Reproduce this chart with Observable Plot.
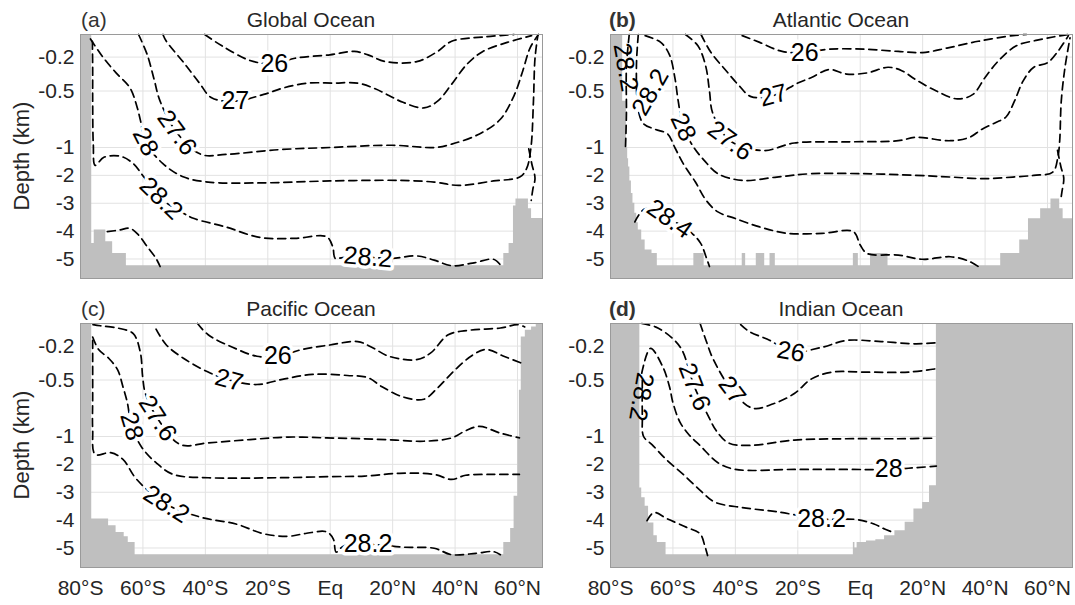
<!DOCTYPE html>
<html><head><meta charset="utf-8">
<script src="https://cdn.jsdelivr.net/npm/d3@7"></script>
<script src="https://cdn.jsdelivr.net/npm/@observablehq/plot@0.6"></script>
<style>
body{margin:0;background:#fff;font-family:"Liberation Sans",Arial,sans-serif;}
#wrap{position:relative;width:1075px;height:605px;overflow:hidden;background:#fff}
.pn{position:absolute}
.tag{position:absolute;font-size:21px;line-height:21px;color:#333;white-space:nowrap}
.ttl{position:absolute;font-size:21px;line-height:21px;color:#262626;text-align:center;width:300px}
.ylab{position:absolute;width:200px;height:24px;line-height:24px;font-size:22px;color:#262626;text-align:center;transform:rotate(-90deg)}
</style></head><body><div id="wrap"></div>
<script>
// ---- axes ----
const LAT_TICKS = [-80,-60,-40,-20,0,20,40,60];
const LAT_LABELS = ["80°S","60°S","40°S","20°S","Eq","20°N","40°N","60°N"];
const DEPTH_TICKS = [-0.2,-0.5,-1,-2,-3,-4,-5];
const LAT_RANGE = [-80, 68];
const DEPTH_BREAKS = [0, -1, -5.7];

// ---- (a) Global Ocean: [lat, depth km] ----
const glo26 = [[-40.2,0],[-34.7,-0.1],[-25.7,-0.23],[-17.9,-0.26],[-11.3,-0.21],[-0.1,-0.18],[7.7,-0.15],[12.1,-0.18],[17.7,-0.24],[27.7,-0.24],[34.4,-0.15],[38.9,-0.06],[50,-0.02],[58.9,0]];
const glo27 = [[-53.6,0],[-52.5,-0.06],[-46.9,-0.25],[-41.9,-0.43],[-38,-0.56],[-30.4,-0.59],[-21.3,-0.53],[-14.6,-0.47],[-6.8,-0.43],[1,-0.43],[8.8,-0.43],[14.4,-0.48],[18.8,-0.54],[23.3,-0.6],[30,-0.65],[34.4,-0.59],[38.9,-0.44],[43.9,-0.26],[48.9,-0.15],[56.7,-0.07],[64.5,-0.01]];
const glo276 = [[-61.4,0],[-58.6,-0.18],[-56.4,-0.4],[-54.5,-0.59],[-49.1,-0.87],[-41.3,-1.25],[-33.5,-1.25],[-16.8,-1.08],[-0.1,-1.0],[19.9,-0.98],[33.3,-1.0],[38.9,-0.97],[47.8,-0.88],[54.5,-0.75],[58.9,-0.54],[61.7,-0.32],[64,-0.12],[66.7,0]];
const glo28 = [[-76.8,-0.04],[-73.1,-0.19],[-68.6,-0.34],[-64.2,-0.47],[-62,-0.63],[-60.8,-0.76],[-59.2,-0.95],[-53.6,-1.58],[-46.9,-2.06],[-39.1,-2.24],[-22.4,-2.27],[-0.1,-2.2],[22.2,-2.18],[33.3,-2.24],[41.1,-2.36],[52.3,-2.2],[60.7,-2.06],[62.9,-1.76],[64.3,-1.0],[65.1,-0.59],[65.6,-0.21],[66.5,-0.01]];
const glo282 = [[-76.2,-0.06],[-76.1,-0.3],[-76.1,-0.59],[-75.9,-0.97],[-75.3,-1.64],[-72.5,-1.35],[-67,-1.32],[-63.1,-1.58],[-59.7,-2.06],[-54.2,-2.83],[-46.9,-3.37],[-43.6,-3.55],[-33.5,-3.85],[-22.4,-4.23],[-11.3,-4.26],[-1.2,-4.2],[0.8,-4.56],[1.6,-4.98],[4,-4.95],[12.1,-4.94],[19.9,-4.98],[27.7,-4.89],[33.3,-5.04],[38.9,-5.24],[45.6,-5.15],[52.3,-5.01],[54.5,-5.21]];
const glo284 = [[-71.4,-4.02],[-67.5,-3.96],[-64.2,-3.9],[-61.4,-4.14],[-58.6,-4.56],[-55.8,-4.98],[-54.5,-5.27]];
const glo28e = [[63.6,-1.05],[64.6,-1.6],[65.6,-2.1],[64.9,-2.5],[64.4,-2.9]];
const gloFloor = [[-80,0],[-76.4,-4.44],[-75.6,-3.96],[-71.9,-4.38],[-69.7,-4.8],[-65.3,-5.24],[55.6,-4.8],[57.3,-4.44],[58.7,-3.1],[59.5,-2.85],[63.5,-3.2],[64.5,-3.55],[68,-3.55]];
const gloLabText = ["26","27","27.6","28","28.2","28.2"];
const gloLabLat = [-17.9,-30.4,-49.1,-59.2,-54.2,12.1];
const gloLabDepth = [-0.26,-0.59,-0.87,-0.95,-2.83,-4.94];
const gloLabRot = [0,0,54,63,44,5];
const gloBare = [];

// ---- (b) Atlantic Ocean ----
const atl26 = [[-37.8,-0.01],[-32.2,-0.07],[-25,-0.15],[-17.8,-0.16],[-10,-0.13],[1.1,-0.13],[12.2,-0.15],[20,-0.16],[27.8,-0.12],[37.8,-0.06],[48.9,-0.01],[53.3,0]];
const atl27 = [[-51,0],[-47.8,-0.16],[-43.3,-0.31],[-38.9,-0.45],[-35,-0.55],[-27.8,-0.54],[-20,-0.43],[-15.6,-0.38],[-10,-0.31],[-4.4,-0.35],[2.2,-0.34],[8.9,-0.29],[13.3,-0.32],[17.8,-0.4],[24.4,-0.5],[31.1,-0.57],[36.1,-0.53],[40,-0.38],[44.4,-0.23],[50,-0.1],[56.7,-0.05],[62.2,-0.02],[66.7,0]];
const atl276 = [[-56,0],[-52,-0.1],[-49.5,-0.28],[-48.3,-0.5],[-47.2,-0.7],[-41.7,-0.94],[-31.1,-1.11],[-21.1,-0.96],[-4.4,-0.95],[12.2,-0.94],[17.8,-0.91],[28.9,-0.94],[35,-0.91],[38.9,-0.84],[43.3,-0.78],[46.7,-0.73],[49.4,-0.59],[52.2,-0.41],[55.6,-0.29],[60,-0.25],[63.3,-0.15],[66.7,-0.01]];
const atl28 = [[-68.9,-0.01],[-63.9,-0.07],[-61.1,-0.18],[-59.4,-0.38],[-58.3,-0.59],[-56.7,-0.82],[-53.3,-1.0],[-50,-1.46],[-45.6,-1.94],[-37.8,-2.18],[-26.7,-2.06],[-15.6,-1.94],[1.1,-1.94],[17.8,-2.0],[28.9,-2.06],[40,-2.12],[48.9,-2.06],[55.6,-2.0],[61.7,-1.88],[63.3,-1.35],[63.9,-0.94],[64.4,-0.59],[65.6,-0.29],[67.2,-0.03]];
const atl282 = [[-71.1,0],[-71.7,-0.29],[-71.1,-0.67],[-69.4,-0.79],[-65.6,-0.84],[-61.7,-0.88],[-59.4,-1.0],[-56.7,-1.58],[-52.8,-2.24],[-49.4,-2.89],[-45.6,-3.31],[-40,-3.55],[-32.2,-3.85],[-23.3,-4.08],[-12.2,-4.08],[-2.2,-4.02],[0,-4.5],[2.2,-4.8],[12.2,-4.86],[20,-5.01],[28.9,-4.92],[34.4,-5.06],[37.8,-5.27]];
const atl282w = [[-74,0],[-74.9,-0.29],[-74.9,-0.7],[-75.2,-1.0]];
const atl284 = [[-72.2,-3.67],[-68.9,-3.2],[-61.1,-3.56],[-53.9,-4.08],[-51.1,-4.44],[-49.4,-4.92],[-48.3,-5.27]];
const atl28e = [[63.2,-1.1],[64.3,-1.7],[65.2,-2.1],[64.6,-2.6],[64.2,-2.9]];
const atlFloor = [[-80,0],[-76.1,-0.59],[-74.9,-1.0],[-74.5,-1.4],[-74.2,-1.7],[-73.8,-2.2],[-73.3,-2.65],[-72.8,-3.0],[-72.2,-3.36],[-71.6,-3.7],[-71.1,-3.96],[-70,-4.32],[-68.9,-4.68],[-66.7,-4.8],[-65,-5.24],[-53.3,-4.8],[-50,-5.24],[-37.8,-4.8],[-36.7,-5.24],[-33.3,-4.8],[-30.6,-5.24],[-28.9,-4.8],[-27.2,-5.24],[-2.2,-4.8],[-0.6,-5.24],[3.3,-4.8],[8.9,-5.24],[45,-4.8],[51.1,-4.32],[53.9,-3.56],[57.8,-3.2],[61.1,-2.85],[63.9,-3.2],[65,-3.56],[68,-3.56]];
const atlLabText = ["26","27","27.6","28","28.2","28.2","28.4"];
const atlLabLat = [-17.8,-27.8,-41.7,-56.7,-75.2,-67.2,-61.1];
const atlLabDepth = [-0.16,-0.54,-0.94,-0.82,-0.29,-0.51,-3.56];
const atlLabRot = [0,-15,37,65,80,-60,35];
const atlBare = [4];

// ---- (c) Pacific Ocean ----
const pac26 = [[-42.5,0],[-39.1,-0.1],[-31.3,-0.21],[-23.5,-0.29],[-16.8,-0.29],[-9,-0.23],[-0.1,-0.19],[8.8,-0.16],[13.3,-0.21],[18.8,-0.29],[27.7,-0.32],[32.2,-0.26],[37.8,-0.1],[44.5,-0.06],[54.5,-0.04],[60.1,-0.01],[62.3,-0.03]];
const pac27 = [[-55.8,-0.05],[-52.5,-0.19],[-46.9,-0.31],[-39.1,-0.43],[-32.4,-0.5],[-23.5,-0.54],[-14.6,-0.49],[-5.7,-0.45],[5.5,-0.46],[12.1,-0.48],[16.6,-0.56],[23.3,-0.65],[30,-0.67],[34.4,-0.57],[40,-0.41],[45.6,-0.28],[50,-0.23],[55.6,-0.29],[61.2,-0.35]];
const pac276 = [[-76,-0.01],[-73.6,-0.02],[-68.1,-0.04],[-63.1,-0.09],[-60.8,-0.26],[-60.1,-0.47],[-59.2,-0.62],[-55.3,-0.84],[-48,-1.29],[-39.1,-1.23],[-25.7,-1.11],[-13.5,-1.02],[-1.2,-1.05],[9.9,-1.08],[21.1,-1.13],[30,-1.17],[38.9,-1.05],[43.3,-0.95],[47.8,-0.91],[54.5,-0.97],[60.6,-1.05]];
const pac28 = [[-76.1,-0.12],[-74.2,-0.23],[-70.9,-0.31],[-68.1,-0.41],[-66.4,-0.56],[-65,-0.7],[-63.6,-0.91],[-60.3,-1.4],[-55.8,-1.94],[-50.3,-2.36],[-39.1,-2.48],[-16.8,-2.48],[-0.1,-2.44],[11,-2.42],[22.2,-2.32],[33.3,-2.36],[38.9,-2.54],[43.4,-2.39],[52.3,-2.36],[60.6,-2.36]];
const pac282 = [[-76.1,-0.15],[-76.1,-0.65],[-76.1,-0.94],[-75.3,-1.64],[-70.3,-1.58],[-66.4,-1.82],[-62,-2.54],[-52.5,-3.43],[-41.3,-3.9],[-30.2,-4.14],[-21.3,-4.49],[-13.5,-4.58],[-7.9,-4.48],[-1.2,-4.42],[1,-4.68],[1.9,-5.15],[4.3,-4.93],[12.1,-4.87],[23.3,-4.97],[33.3,-5.01],[38.9,-5.24],[46.7,-5.19],[52.3,-5.13],[54.5,-5.24]];
const pacFloor = [[-80,0],[-76.4,-3.96],[-71,-4.2],[-68.6,-4.44],[-66,-4.6],[-64.7,-4.8],[-62.5,-5.24],[55.6,-4.8],[57.8,-4.3],[58.9,-3.14],[60.1,-1.1],[60.6,-0.59],[61.2,-0.12],[62.5,-0.06],[64.5,-0.03],[66,0],[68,0]];
const pacLabText = ["26","27","27.6","28","28.2","28.2"];
const pacLabLat = [-16.8,-32.4,-55.3,-63.6,-52.5,12.1];
const pacLabDepth = [-0.29,-0.5,-0.84,-0.91,-3.43,-4.87];
const pacLabRot = [0,15,57,73,32,0];
const pacBare = [];

// ---- (d) Indian Ocean ----
const ind26 = [[-38.3,-0.01],[-35.6,-0.07],[-28.9,-0.15],[-22.2,-0.25],[-12.2,-0.21],[-4.4,-0.15],[6.7,-0.16],[17.8,-0.18],[24.4,-0.17]];
const ind27 = [[-51.3,0],[-49.4,-0.15],[-47.2,-0.31],[-41.1,-0.59],[-34.4,-0.75],[-27.8,-0.71],[-21.1,-0.62],[-15.6,-0.49],[-8.9,-0.43],[1.1,-0.43],[15.6,-0.43],[24.4,-0.4]];
const ind276 = [[-70,0],[-65.6,-0.03],[-60.6,-0.12],[-57.2,-0.23],[-53.1,-0.56],[-48.3,-0.84],[-46.1,-0.95],[-42.2,-1.23],[-35.6,-1.32],[-21.1,-1.13],[-4.4,-1.08],[12.2,-1.08],[24.4,-1.06]];
const ind28 = [[-70,-0.44],[-67.2,-0.22],[-63.3,-0.38],[-61.1,-0.56],[-60,-0.7],[-57.8,-0.87],[-55,-0.98],[-51.1,-1.35],[-45.6,-1.94],[-40,-2.18],[-21.1,-2.18],[-4.4,-2.18],[9.1,-2.18],[24.4,-2.06]];
const ind282 = [[-69.8,-0.5],[-69.8,-0.82],[-69.4,-1.0],[-66.7,-1.29],[-62.2,-1.82],[-56.7,-2.36],[-51.1,-2.95],[-46.7,-3.35],[-37.8,-3.55],[-26.7,-3.7],[-12.4,-3.96],[-1.1,-3.98],[4.4,-4.14],[7.8,-4.32],[10.6,-4.44]];
const ind284 = [[-68.3,-4.02],[-66.1,-3.73],[-61.7,-3.96],[-55.6,-4.26],[-51.3,-4.49],[-49.8,-4.92],[-48.9,-5.27]];
const indFloor = [[-80,0],[-70.6,-2.85],[-70,-3.2],[-68.9,-3.5],[-67.8,-4.1],[-66.1,-4.56],[-65,-4.8],[-62.2,-5.24],[-2.2,-4.8],[-1.7,-5.0],[-1,-4.8],[2,-4.75],[5,-4.7],[7.8,-4.56],[11.1,-4.38],[14.4,-4.08],[17.2,-3.6],[20,-3.37],[22.2,-2.77],[24.4,0],[68,0]];
const indLabText = ["26","27","27.6","28","28.2","28.2"];
const indLabLat = [-22.2,-41.1,-53.1,9.1,-12.4,-70.2];
const indLabDepth = [-0.25,-0.59,-0.56,-2.18,-3.96,-0.65];
const indLabRot = [10,53,69,0,0,100];
const indBare = [5];

function labels(t, la, de, ro, bare) { return t.map((s, i) => ({text: s, lat: la[i], depth: de[i], rot: ro[i], halo: !bare.includes(i)})); }

const FONT = '"Liberation Sans", Arial, sans-serif';
function panel(lines, floor, labs, showX) {
  const mt = 34, mb = showX ? 37 : 2, ph = 244;
  return Plot.plot({
    width: 545, height: mt + ph + mb,
    marginLeft: 80, marginRight: 3, marginTop: mt, marginBottom: mb,
    style: {fontFamily: FONT, fontSize: "21px", color: "#262626", background: "transparent"},
    x: {type: "linear", domain: LAT_RANGE, ticks: LAT_TICKS, tickFormat: d => LAT_LABELS[LAT_TICKS.indexOf(d)], tickSize: 0, tickPadding: 13, label: null, axis: showX ? "bottom" : null},
    y: {type: "linear", domain: DEPTH_BREAKS, range: [mt, mt + 113, mt + ph], ticks: DEPTH_TICKS, tickFormat: d => String(d), tickSize: 0, tickPadding: 6, label: null},
    marks: [
      Plot.ruleX(LAT_TICKS, {stroke: "#e2e2e2", strokeWidth: 1}),
      Plot.ruleY(DEPTH_TICKS, {stroke: "#e2e2e2", strokeWidth: 1}),
      Plot.areaY(floor, {x: d => d[0], y1: DEPTH_BREAKS[2], y2: d => d[1], curve: "step-after", fill: "#bfbfbf"}),
      ...lines.map(l => Plot.line(l, {x: d => d[0], y: d => d[1], stroke: "#000", strokeWidth: 1.7, strokeDasharray: "8,5", curve: "catmull-rom"})),
      Plot.text(labs.filter(d => d.halo), {x: "lat", y: "depth", text: "text", rotate: "rot", fontSize: 25, fill: "#fff", stroke: "#fff", strokeWidth: 7, fontFamily: FONT}),
      Plot.text(labs, {x: "lat", y: "depth", text: "text", rotate: "rot", fontSize: 25, fill: "#000", fontFamily: FONT}),
      Plot.frame({stroke: "#9a9a9a", strokeWidth: 1})
    ]
  });
}

const wrap = document.getElementById("wrap");
function place(el, left, top) { el.classList.add("pn"); el.style.left = left + "px"; el.style.top = top + "px"; wrap.appendChild(el); }
function div(cls, txt, left, top, extra) { const d = document.createElement("div"); d.className = cls; d.textContent = txt; d.style.left = left + "px"; d.style.top = top + "px"; if (extra) Object.assign(d.style, extra); wrap.appendChild(d); }

place(panel([glo26, glo27, glo276, glo28, glo282, glo284, glo28e], gloFloor, labels(gloLabText, gloLabLat, gloLabDepth, gloLabRot, gloBare), false), 0, 0);
place(panel([atl26, atl27, atl276, atl28, atl282, atl282w, atl284, atl28e], atlFloor, labels(atlLabText, atlLabLat, atlLabDepth, atlLabRot, atlBare), false), 530, 0);
place(panel([pac26, pac27, pac276, pac28, pac282], pacFloor, labels(pacLabText, pacLabLat, pacLabDepth, pacLabRot, pacBare), true), 0, 289);
place(panel([ind26, ind27, ind276, ind28, ind282, ind284], indFloor, labels(indLabText, indLabLat, indLabDepth, indLabRot, indBare), true), 530, 289);

div("tag", "(a)", 81, 9);
div("tag", "(b)", 609, 9, {fontWeight: "bold"});
div("tag", "(c)", 81, 298);
div("tag", "(d)", 609, 298, {fontWeight: "bold"});
div("ttl", "Global Ocean", 311 - 150, 9);
div("ttl", "Atlantic Ocean", 841 - 150, 9);
div("ttl", "Pacific Ocean", 311 - 150, 298);
div("ttl", "Indian Ocean", 841 - 150, 298);
div("ylab", "Depth (km)", 22 - 100, 156 - 12);
div("ylab", "Depth (km)", 22 - 100, 445 - 12);
</script></body></html>
